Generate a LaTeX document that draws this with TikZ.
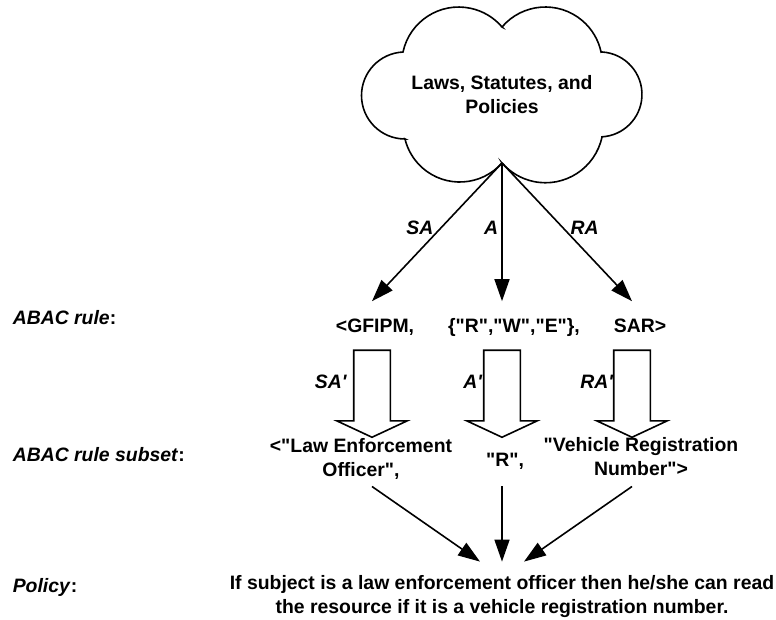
\documentclass[tikz,border=0pt]{standalone}
\usepackage{fontspec}
\setmainfont{Liberation Sans}
\usepackage{tikz}
\usetikzlibrary{positioning}
\usetikzlibrary{arrows.meta}
\usetikzlibrary{shapes.arrows}

\newcommand{\dq}{\textquotedbl}

\begin{document}
\begin{tikzpicture}[
            x = 0.5pt, y = 0.5pt,
            > = {Triangle[length=11pt, width=7.5pt]}, % filled arrow head
            line width = 0.8pt,
            node distance = 65pt, % distance between block arrows
            font = \fontsize{9.7pt}{12pt}\selectfont\bfseries
        ]

        \tikzstyle{rulerow}=[
            anchor = base,
            text height = 7pt,
            text depth = 2pt,
            inner ysep = 8.5pt
        ]
        \tikzstyle{subsetrow}=[align = center]
        \tikzstyle{levellbl}=[anchor = base west, inner sep = 0pt]
        \tikzstyle{fatarrow}=[
            draw,
            single arrow,
            shape border rotate = 270,
            minimum height = 43.5pt,
            single arrow head extend = 8.5pt,
            single arrow tip angle = 130,
            inner xsep = 8.75pt,
            inner ysep = 0pt
        ]

        \useasboundingbox (0,0) rectangle (776,620);

	% cloud
        \coordinate (cusp) at (502,457);
        \draw (cusp) arc[start angle=-41.5, end angle=-166.3, radius=56.4]
            -- (405,481) arc[start angle=270, end angle=93, radius=43.5]
            -- (403,568) arc[start angle=167.8, end angle=40.5, radius=57]
            -- (502,593) arc[start angle=139.5, end angle=12, radius=57]
            -- (602,568) arc[start angle=86.6, end angle=-86.6, radius=42.5]
            -- (602,483) arc[start angle=-12, end angle=-138.9, radius=57.76]
            -- cycle;
        \node[align=center] (laws) at (502,525) {Laws, Statutes, and\\Policies};

         % rule level
        \node[rulerow] (rwe) at (514,287) {\{\dq R\dq,\dq W\dq,\dq E\dq\},};
        \node[rulerow] (gfipm) at (375,287) {<GFIPM,};
        \node[rulerow] (sar) at (640,287) {SAR>};

        \node[fatarrow] (aarr) at (502,230.5) {};
        \node[fatarrow] (saarr) [left of=aarr] {};
        \node[fatarrow] (raarr) [right of=aarr] {};

        \path[->] (cusp) edge node[pos=0.47, left] {\textit{SA}} (saarr |- gfipm.north);
        \path[->] (cusp) edge node[pos=0.47, left, inner xsep=1.5pt] {\textit{A}} (aarr |- gfipm.north);
        \path[->] (cusp) edge node[pos=0.47, right] {\textit{RA}} (raarr |- gfipm.north);

        \node (saprime) at (331,238) {\textit{SA\textquotesingle}};
        \node (aprime) at (473,238) {\textit{A\textquotesingle}};
        \node (raprime) at (597,238) {\textit{RA\textquotesingle}};

         % subset level
        \node[subsetrow] (sublaw) at (361,161.5) {<\dq Law Enforcement\\Officer\dq,};
        \node[subsetrow] (subr) at (505,158.5) {\dq R\dq,};
        \node[subsetrow] (subveh) at (641,163.5) {\dq Vehicle Registration\\Number\dq>};

         % policy
        \node[align=center, inner ysep=6.5pt] (policy) at (502,23.5)
            {If subject is a law enforcement officer then he/she can read\\the resource if it is a vehicle registration number.};

        \path[->] (saarr |- sublaw.south) edge ([xshift=-11pt]policy.north);
        \path[->] (aarr |- sublaw.south) edge (policy.north);
        \path[->] (raarr |- sublaw.south) edge ([xshift=11pt]policy.north);

         % level labels
        \node[levellbl] (rulelbl) at (12,295) {\textit{ABAC rule}:};
        \node[levellbl] (subsetlbl) at (12,158) {\textit{ABAC rule subset}:};
        \node[levellbl] (policylbl) at (12,27) {\textit{Policy}:};

  \end{tikzpicture}
\end{document}
